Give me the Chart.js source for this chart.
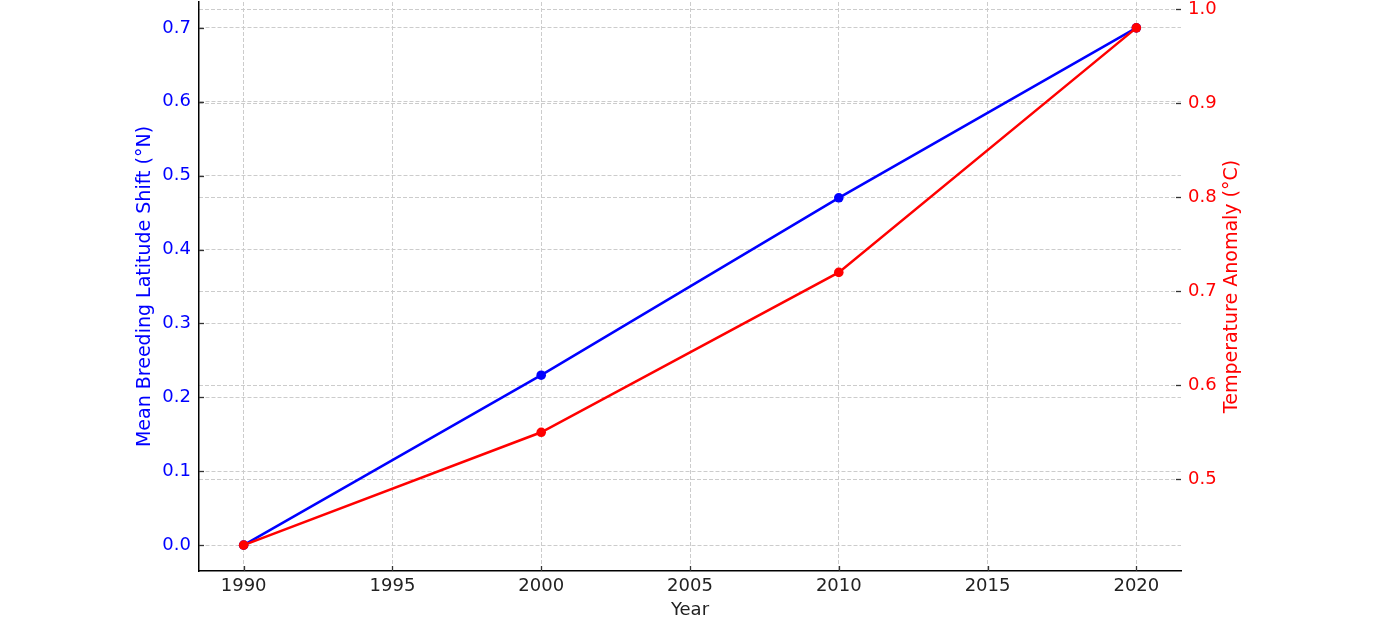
<!DOCTYPE html>
<html>
<head>
<meta charset="utf-8">
<script src="https://cdn.jsdelivr.net/npm/chart.js@4/dist/chart.umd.min.js"></script>
<style>
html,body{margin:0;padding:0;background:#fff;}
#wrap{width:1380px;height:632px;}
</style>
</head>
<body>
<div id="wrap"><canvas id="c" width="1380" height="632"></canvas></div>
<script>
const years = [1990, 2000, 2010, 2020];
const latitudeShift = [0.0, 0.23, 0.47, 0.70];
const tempAnomaly = [0.43, 0.55, 0.72, 0.98];
const xTicks = [1990, 1995, 2000, 2005, 2010, 2015, 2020];
const leftTicks = [0.0, 0.1, 0.2, 0.3, 0.4, 0.5, 0.6, 0.7];
const rightTicks = [0.5, 0.6, 0.7, 0.8, 0.9, 1.0];
const rightTitle = 'Temperature Anomaly (°C)';

const FONT = "'DejaVu Sans', sans-serif";
const BLUE = '#0000ff';
const RED = '#ff0000';
const GRID = {color: '#cccccc', lineWidth: 1, drawTicks: false};
const DASH = [4, 2];

const innerTicks = {
  id: 'innerTicks',
  afterDraw(chart) {
    const ctx = chart.ctx;
    const a = chart.chartArea;
    ctx.save();
    ctx.strokeStyle = '#333';
    ctx.lineWidth = 1.3;
    const len = 5;
    const sx = chart.scales.x;
    xTicks.forEach(v => {
      const p = Math.round(sx.getPixelForValue(v)) + 0.5;
      ctx.beginPath(); ctx.moveTo(p, a.bottom); ctx.lineTo(p, a.bottom - len); ctx.stroke();
    });
    const yl = chart.scales.y;
    leftTicks.forEach(v => {
      const p = Math.round(yl.getPixelForValue(v)) + 0.5;
      ctx.beginPath(); ctx.moveTo(a.left, p); ctx.lineTo(a.left + len, p); ctx.stroke();
    });
    const yr = chart.scales.y2;
    rightTicks.forEach(v => {
      const p = Math.round(yr.getPixelForValue(v)) + 0.5;
      ctx.beginPath(); ctx.moveTo(a.right, p); ctx.lineTo(a.right - len, p); ctx.stroke();
    });
    // right axis title, reading bottom-to-top
    ctx.fillStyle = RED;
    ctx.font = "19px " + FONT;
    ctx.textAlign = 'center';
    ctx.textBaseline = 'middle';
    ctx.translate(1232, (a.top + a.bottom) / 2);
    ctx.rotate(-Math.PI / 2);
    ctx.fillText(rightTitle, 0, 0);
    ctx.restore();
  }
};

const noPadY = s => { s.width = 199; s.paddingTop = 0; s.paddingBottom = 0; };

new Chart(document.getElementById('c'), {
  type: 'line',
  data: {
    datasets: [
      {
        label: 'Mean Breeding Latitude Shift (°N)',
        data: years.map((y, i) => ({x: y, y: latitudeShift[i]})),
        borderColor: BLUE, backgroundColor: BLUE,
        borderWidth: 2.5, pointRadius: 4.8, pointHoverRadius: 4.8,
        pointBorderWidth: 0, yAxisID: 'y', order: 2, tension: 0
      },
      {
        label: rightTitle,
        data: years.map((y, i) => ({x: y, y: tempAnomaly[i]})),
        borderColor: RED, backgroundColor: RED,
        borderWidth: 2.5, pointRadius: 4.8, pointHoverRadius: 4.8,
        pointBorderWidth: 0, yAxisID: 'y2', order: 1, tension: 0
      }
    ]
  },
  options: {
    responsive: false,
    animation: false,
    devicePixelRatio: 1,
    layout: {autoPadding: false, padding: {top: 2, left: 0, right: 0, bottom: 0}},
    plugins: {legend: {display: false}, tooltip: {enabled: false}},
    scales: {
      x: {
        type: 'linear', min: 1988.5, max: 2021.5,
        afterBuildTicks: s => { s.ticks = xTicks.map(v => ({value: v})); },
        afterFit: s => { s.height = 61; s.paddingLeft = 0; s.paddingRight = 0; },
        grid: {...GRID},
        border: {display: true, color: '#000', width: 1.5, dash: DASH},
        ticks: {color: '#222', font: {family: FONT, size: 18}, padding: 5, maxRotation: 0,
                callback: v => String(v)},
        title: {display: true, text: 'Year', color: '#222', font: {family: FONT, size: 18},
                padding: {top: 0, bottom: 11}}
      },
      y: {
        type: 'linear', position: 'left', min: -0.035, max: 0.735,
        afterBuildTicks: s => { s.ticks = leftTicks.map(v => ({value: v})); },
        afterFit: noPadY,
        grid: {...GRID},
        border: {display: true, color: '#000', width: 1.5, dash: DASH},
        ticks: {color: BLUE, font: {family: FONT, size: 18}, padding: 8,
                callback: v => Number(v).toFixed(1)},
        title: {display: true, text: 'Mean Breeding Latitude Shift (°N)', color: BLUE,
                font: {family: FONT, size: 19}, padding: {top: 134, bottom: 0}}
      },
      y2: {
        type: 'linear', position: 'right', min: 0.4025, max: 1.0075,
        afterBuildTicks: s => { s.ticks = rightTicks.map(v => ({value: v})); },
        afterFit: noPadY,
        grid: {...GRID},
        border: {display: false, dash: DASH},
        ticks: {color: RED, font: {family: FONT, size: 18}, padding: 7,
                callback: v => Number(v).toFixed(1)},
        title: {display: false}
      }
    }
  },
  plugins: [innerTicks]
});
</script>
</body>
</html>
